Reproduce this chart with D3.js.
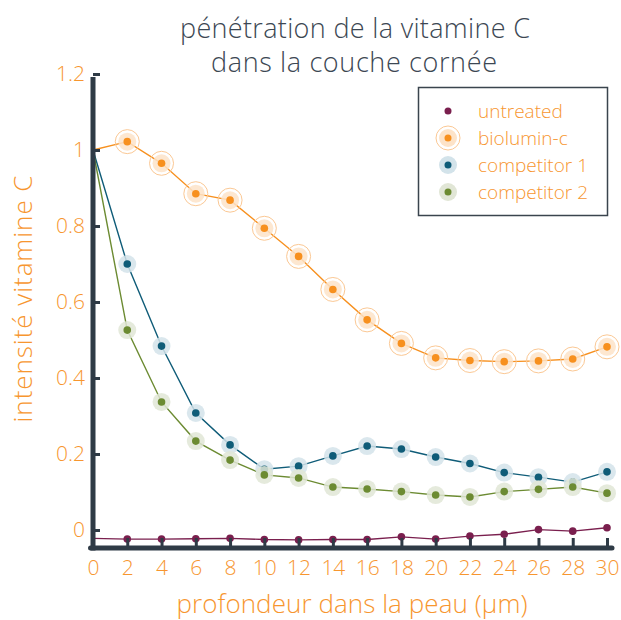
<!DOCTYPE html>
<html>
<head>
<meta charset="utf-8">
<script src="https://cdn.jsdelivr.net/npm/d3@7"></script>
<style>
  body { margin: 0; background: #fff; }
  svg text { font-family: "Open Sans", "Liberation Sans", sans-serif; font-weight: 300; }
</style>
</head>
<body>
<svg id="chart" width="621" height="620"></svg>
<script>
// depth values (µm)
var depths = [0, 2, 4, 6, 8, 10, 12, 14, 16, 18, 20, 22, 24, 26, 28, 30];

var untreated   = [-0.022, -0.024, -0.024, -0.023, -0.022, -0.025, -0.026, -0.025, -0.025, -0.018, -0.024, -0.016, -0.011, 0.001, -0.003, 0.006];
var biolumin    = [1.0, 1.022, 0.965, 0.885, 0.868, 0.794, 0.72, 0.633, 0.553, 0.491, 0.453, 0.446, 0.443, 0.445, 0.45, 0.482];
var competitor1 = [1.0, 0.70, 0.484, 0.308, 0.224, 0.16, 0.168, 0.195, 0.221, 0.213, 0.192, 0.175, 0.151, 0.139, 0.126, 0.153];
var competitor2 = [1.0, 0.526, 0.337, 0.234, 0.184, 0.145, 0.137, 0.113, 0.108, 0.101, 0.092, 0.087, 0.101, 0.107, 0.113, 0.097];

var seriesNames = ["untreated", "biolumin-c", "competitor 1", "competitor 2"];
var xTicks = d3.range(0, 31, 2);
var yTicks = [0, 0.2, 0.4, 0.6, 0.8, 1, 1.2];

var orange = "#f7962f", ink = "#2f3b46";

var series = [
  {name: seriesNames[0], values: untreated,   color: "#7a1f4e", halo: null,      ring: false},
  {name: seriesNames[1], values: biolumin,    color: "#f7901e", halo: "#fde3c8", ring: true},
  {name: seriesNames[2], values: competitor1, color: "#0f5c78", halo: "#d3e3ea", ring: false},
  {name: seriesNames[3], values: competitor2, color: "#6c8b32", halo: "#e1e6d6", ring: false}
];

var svg = d3.select("#chart");
var x = d3.scaleLinear().domain([0, 30]).range([93, 607]);
var y = d3.scaleLinear().domain([0, 1]).range([530, 150]);
var yBottom = 548, yTop = 77;

// title
svg.append("text").attr("x", 355).attr("y", 38).attr("text-anchor", "middle")
  .attr("font-size", 27).attr("textLength", 350).attr("lengthAdjust", "spacing")
  .attr("fill", "#3c4753").text("pénétration de la vitamine C");
svg.append("text").attr("x", 354).attr("y", 72).attr("text-anchor", "middle")
  .attr("font-size", 27).attr("textLength", 286).attr("lengthAdjust", "spacing")
  .attr("fill", "#3c4753").text("dans la couche cornée");

// axes labels
svg.append("text").attr("x", 352).attr("y", 613).attr("text-anchor", "middle")
  .attr("font-size", 26).attr("textLength", 351).attr("lengthAdjust", "spacing")
  .attr("fill", orange).text("profondeur dans la peau (µm)");
svg.append("text").attr("transform", "translate(32,299) rotate(-90)").attr("text-anchor", "middle")
  .attr("font-size", 26).attr("textLength", 247).attr("lengthAdjust", "spacing")
  .attr("fill", orange).text("intensité vitamine C");

// lines and markers
var line = d3.line().x(function(d, i) { return x(depths[i]); }).y(function(d) { return y(d); });

series.forEach(function(s) {
  svg.append("path").attr("d", line(s.values))
    .attr("fill", "none").attr("stroke", s.color).attr("stroke-width", 1.4);
});

series.forEach(function(s) {
  var g = svg.append("g");
  var pts = s.values.slice(1).map(function(v, i) { return [depths[i + 1], v]; });
  if (s.halo) {
    g.selectAll(".halo").data(pts).enter().append("circle")
      .attr("cx", function(d) { return x(d[0]); }).attr("cy", function(d) { return y(d[1]); })
      .attr("r", 9).attr("fill", s.halo).attr("fill-opacity", 0.85);
  }
  if (s.ring) {
    g.selectAll(".ring").data(pts).enter().append("circle")
      .attr("cx", function(d) { return x(d[0]); }).attr("cy", function(d) { return y(d[1]); })
      .attr("r", 12).attr("fill", "none").attr("stroke", "#fbc894").attr("stroke-width", 1);
  }
  g.selectAll(".dot").data(pts).enter().append("circle")
    .attr("cx", function(d) { return x(d[0]); }).attr("cy", function(d) { return y(d[1]); })
    .attr("r", 3.8).attr("fill", s.color);
});

// y axis
var yAxis = d3.axisRight(y).tickValues(yTicks).tickSize(7).tickFormat(d3.format("~g"));
var gy = svg.append("g").attr("transform", "translate(93,0)").call(yAxis);
gy.select(".domain").remove();
gy.selectAll(".tick line").attr("stroke", ink).attr("stroke-width", 3);
gy.selectAll(".tick text").attr("x", -8).attr("text-anchor", "end")
  .attr("font-size", 21).attr("fill", orange);

// x axis
var xAxis = d3.axisTop(x).tickValues(xTicks).tickSize(10);
var gx = svg.append("g").attr("transform", "translate(0," + yBottom + ")").call(xAxis);
gx.select(".domain").remove();
gx.selectAll(".tick line").attr("stroke", ink).attr("stroke-width", 3);
gx.selectAll(".tick text").attr("y", 27).attr("font-size", 21).attr("fill", orange);

// spines
svg.append("line").attr("x1", 93).attr("x2", 93).attr("y1", yTop).attr("y2", yBottom + 2.5)
  .attr("stroke", ink).attr("stroke-width", 5);
svg.append("line").attr("x1", 90.5).attr("x2", 612).attr("y1", yBottom).attr("y2", yBottom)
  .attr("stroke", ink).attr("stroke-width", 5).attr("stroke-linecap", "round");

// legend
var lg = svg.append("g");
lg.append("rect").attr("x", 418.5).attr("y", 87.5).attr("width", 189).attr("height", 128)
  .attr("fill", "#fff").attr("stroke", "#3a444e").attr("stroke-width", 1.5);
series.forEach(function(s, i) {
  var cy = 111 + i * 27, cx = 448;
  if (s.halo) lg.append("circle").attr("cx", cx).attr("cy", cy).attr("r", 9).attr("fill", s.halo);
  if (s.ring) lg.append("circle").attr("cx", cx).attr("cy", cy).attr("r", 12)
    .attr("fill", "none").attr("stroke", "#fbc894").attr("stroke-width", 1);
  lg.append("circle").attr("cx", cx).attr("cy", cy).attr("r", 3.5).attr("fill", s.color);
  lg.append("text").attr("x", 478).attr("y", cy + 6.5).attr("font-size", 19)
    .attr("fill", orange).text(s.name);
});
</script>
</body>
</html>
